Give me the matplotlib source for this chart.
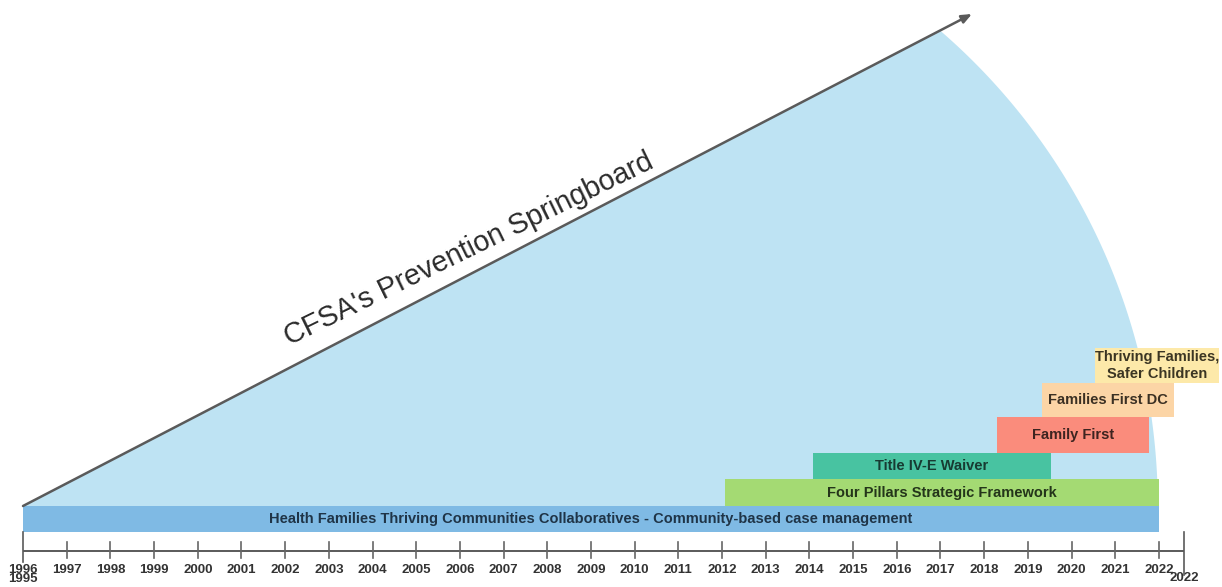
import numpy as np
import matplotlib
matplotlib.use("Agg")
import matplotlib.pyplot as plt
from matplotlib.patches import Polygon

plt.rcParams['font.family'] = ['Liberation Sans', 'DejaVu Sans']

# programmes on the timeline (start year, end year)
labels = [
    "Health Families Thriving Communities Collaboratives - Community-based case management",
    "Four Pillars Strategic Framework",
    "Title IV-E Waiver",
    "Family First",
    "Families First DC",
    "Thriving Families,\nSafer Children",
]
starts = [1996.0, 2012.07, 2014.08, 2018.29, 2019.32, 2020.54]
ends = [2022.0, 2022.0, 2019.53, 2021.77, 2022.34, 2023.37]
colors = ["#7fbae4", "#a4da73", "#48c3a1", "#fa8c7c", "#fcd5a6", "#fde9a9"]
text_colors = ["#1f3447", "#24351a", "#173b32", "#3d2420", "#3b3023", "#3b3523"]

years = list(range(1996, 2023))
title = "CFSA's Prevention Springboard"

# layout (y in pixel-like units from the bottom)
bar_bottoms = [55, 81, 108, 134, 170, 204]
bar_heights = [26, 27, 26, 36, 34, 35]

x_min, x_max = 1995.4736, 2023.444
W, H = 1222, 587
ppy = W / (x_max - x_min)

fig = plt.figure(figsize=(W / 100, H / 100), dpi=100)
ax = fig.add_axes([0, 0, 1, 1])
ax.set_xlim(x_min, x_max)
ax.set_ylim(0, H)
ax.axis("off")

# springboard wedge
ox, oy = 1996, 81
ex, ey = 2017.72, 573
arc_cx, arc_cy, arc_r = 2007.6, 81, 628
dx, dy = (ex - ox) * ppy, ey - oy
ccx, ccy = (arc_cx - ox) * ppy, arc_cy - oy
a = dx * dx + dy * dy
b = -2 * (dx * ccx + dy * ccy)
c = ccx ** 2 + ccy ** 2 - arc_r ** 2
s = (-b + np.sqrt(b * b - 4 * a * c)) / (2 * a)
t_top = np.arctan2(s * dy - ccy, s * dx - ccx)
t = np.linspace(t_top, 0, 200)
arc_x = arc_cx + arc_r * np.cos(t) / ppy
arc_y = arc_cy + arc_r * np.sin(t)
pts = np.column_stack([np.r_[ox, arc_x], np.r_[oy, arc_y]])
ax.add_patch(Polygon(pts, closed=True, facecolor="#bee3f3", edgecolor="none", zorder=1))

# bars
for lab, s0, e0, col, tc, yb, hh in zip(labels, starts, ends, colors, text_colors,
                                        bar_bottoms, bar_heights):
    ax.barh(yb, e0 - s0, left=s0, height=hh, align="edge", color=col, zorder=2)
    ax.text((s0 + e0) / 2, yb + hh / 2, lab, ha="center", va="center",
            fontsize=10.5, fontweight="bold", color=tc, zorder=4, linespacing=1.25)

# arrow
ax.annotate("", xy=(ex, ey), xytext=(ox, oy),
            arrowprops=dict(arrowstyle="-|>,head_length=0.6,head_width=0.25",
                            color="#5a5a5a", lw=1.8, shrinkA=0, shrinkB=0),
            zorder=3)
ax.text(2006.29, 331, title, rotation=26, rotation_mode="anchor",
        ha="center", va="baseline", fontsize=20.7, color="#2b2b2b", zorder=4)

# time axis
last_tick = 2022.57
ax.plot([1996, last_tick], [36, 36], color="#5a5a5a", lw=1.4, zorder=3,
        solid_capstyle="butt")
for yr in years:
    if yr == 1996:
        ax.plot([yr, yr], [25, 55], color="#5a5a5a", lw=1.2, zorder=3)
    else:
        ax.plot([yr, yr], [29, 45], color="#666666", lw=1.2, zorder=3)
    ax.text(yr, 17, str(yr), ha="center", va="center", fontsize=9.5,
            fontweight="bold", color="#333333", zorder=4)
ax.plot([last_tick, last_tick], [12, 55], color="#5a5a5a", lw=1.2, zorder=3)
ax.text(1996, 8, "1995", ha="center", va="center", fontsize=9.5,
        fontweight="bold", color="#333333", zorder=4)
ax.text(last_tick, 9, "2022", ha="center", va="center", fontsize=9.5,
        fontweight="bold", color="#333333", zorder=4)

fig.savefig("out.png", dpi=100, facecolor="white")
